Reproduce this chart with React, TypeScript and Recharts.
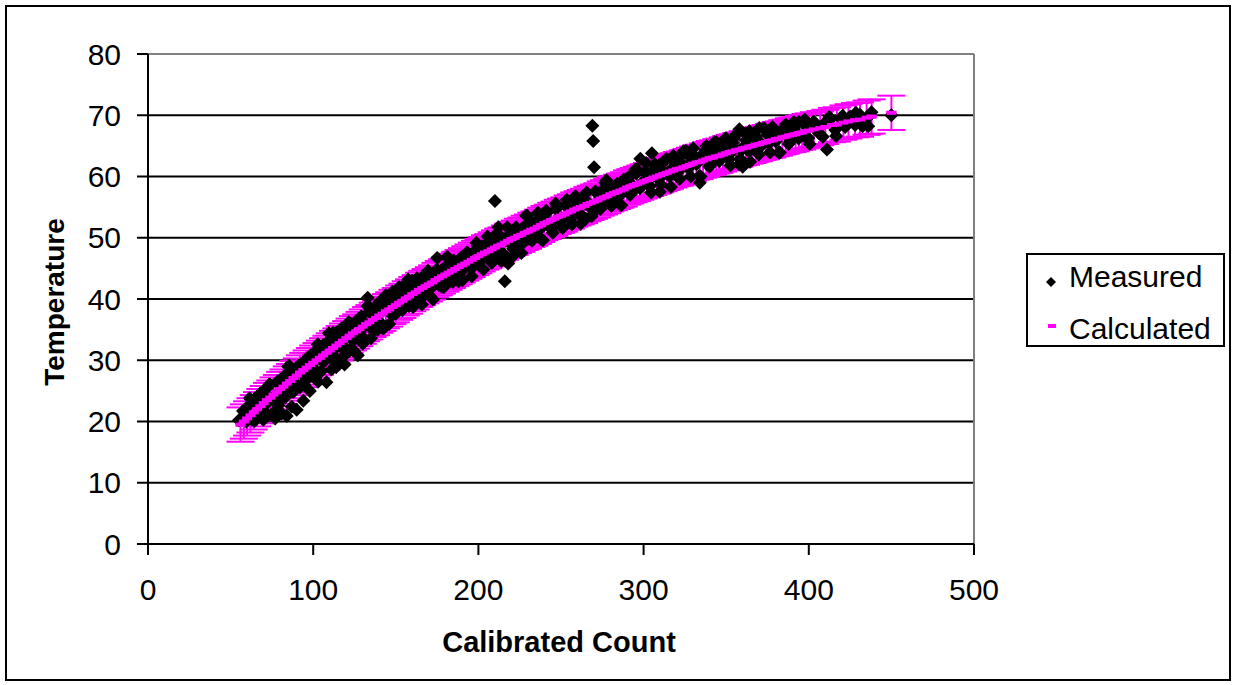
import { ScatterChart, Scatter, XAxis, YAxis, CartesianGrid, ReferenceLine, ErrorBar } from "recharts";

const FONT = "'Liberation Sans', Arial, sans-serif";
const MAGENTA = "#FF00FF";

const xTicks = [0, 100, 200, 300, 400, 500];
const yTicks = [0, 10, 20, 30, 40, 50, 60, 70, 80];

// [calibrated count, temperature]
const measuredPoints: [number, number][] = [
  [55, 20.2], [58, 21.8], [60, 20.6], [62, 22.9], [63, 20.3], [65, 23.8], [66, 21.4], [68, 24.6],
  [69, 22.1], [70, 20.8], [71, 25.3], [72, 23.0], [74, 26.0], [75, 21.2], [76, 24.1], [77, 20.5],
  [78, 26.4], [79, 22.6], [80, 25.0], [81, 21.3], [82, 27.3], [83, 23.9], [84, 20.9], [85, 26.0],
  [86, 28.2], [87, 22.4], [88, 24.8], [89, 27.6], [90, 21.9], [91, 29.1], [92, 25.6], [93, 27.9],
  [94, 23.4], [95, 30.0], [96, 26.8], [97, 28.6], [98, 25.0], [99, 30.9], [100, 27.4], [101, 29.7],
  [102, 31.6], [103, 26.5], [104, 30.3], [105, 28.2], [106, 32.5], [107, 29.9], [108, 26.4], [109, 33.1],
  [110, 30.6], [111, 28.5], [112, 34.5], [113, 31.8], [114, 28.9], [115, 33.7], [116, 30.1], [117, 35.2],
  [118, 32.4], [119, 29.3], [120, 34.8], [122, 31.5], [123, 35.9], [124, 33.2], [126, 36.4], [127, 30.8],
  [128, 34.6], [129, 37.2], [130, 32.7], [131, 35.8], [133, 40.2], [134, 37.9], [135, 33.6], [136, 36.7],
  [138, 38.8], [139, 35.0], [140, 39.5], [141, 36.1], [143, 38.3], [144, 40.6], [146, 35.9], [147, 39.4],
  [148, 41.2], [150, 37.6], [151, 40.0], [152, 41.9], [154, 38.2], [155, 42.3], [156, 40.6], [158, 38.9],
  [159, 41.7], [160, 43.0], [162, 39.8], [163, 42.4], [165, 40.9], [166, 43.6], [168, 41.3], [170, 44.2],
  [171, 40.4], [173, 43.1], [175, 46.7], [176, 42.3], [178, 44.8], [179, 41.9], [181, 45.5], [183, 43.0],
  [185, 46.3], [186, 44.1], [188, 42.9], [190, 46.9], [191, 44.8], [193, 47.6], [195, 45.2], [196, 43.7],
  [198, 47.9], [200, 46.0], [202, 48.6], [203, 44.8], [205, 47.2], [207, 49.4], [208, 45.9], [210, 56.0],
  [211, 48.3], [212, 51.7], [213, 46.5], [214, 50.1], [215, 47.4], [216, 42.9], [218, 45.8], [219, 50.6],
  [221, 48.2], [223, 51.2], [225, 49.0], [226, 47.5], [228, 51.9], [230, 49.8], [232, 52.6], [234, 50.5],
  [236, 54.1], [237, 51.3], [239, 49.6], [241, 54.4], [243, 52.2], [245, 50.8], [247, 54.7], [249, 52.9],
  [251, 51.6], [253, 55.2], [255, 53.4], [257, 52.3], [259, 55.9], [261, 54.0], [263, 56.4], [265, 53.1],
  [267, 55.6], [269, 68.3], [269.5, 65.8], [270, 61.5], [271, 54.5], [272, 57.2], [274, 55.3], [276, 58.1],
  [278, 56.2], [280, 57.8], [282, 55.9], [284, 58.8], [286, 57.0], [288, 59.5], [290, 57.8], [292, 60.1],
  [294, 58.4], [296, 61.2], [298, 62.9], [299, 59.0], [301, 60.8], [303, 58.6], [305, 63.8], [306, 61.1],
  [308, 59.8], [310, 62.0], [312, 60.3], [314, 62.8], [316, 61.0], [318, 63.4], [320, 60.6], [322, 62.4],
  [324, 64.1], [326, 61.6], [328, 63.2], [330, 64.6], [332, 62.0], [334, 59.0], [336, 63.7], [338, 65.0],
  [340, 62.5], [342, 64.3], [344, 65.6], [346, 63.1], [348, 64.8], [350, 66.2], [352, 63.6], [354, 65.5],
  [356, 66.9], [358, 67.7], [359, 64.2], [360, 61.6], [362, 65.9], [364, 67.4], [366, 64.7], [368, 66.5],
  [370, 67.9], [372, 65.2], [375, 66.8], [378, 68.1], [380, 65.7], [383, 67.3], [386, 68.5], [388, 66.2],
  [391, 67.8], [394, 68.9], [397, 66.6], [400, 68.2], [403, 69.0], [406, 67.1], [409, 68.6], [411, 64.4],
  [413, 69.3], [416, 67.6], [419, 69.5], [422, 68.1], [425, 69.8], [428, 68.4], [431, 70.1], [434, 68.8],
  [436, 68.2], [438, 70.5], [450, 70.0],
  [57.5, 21.7], [59.5, 20.0], [61.5, 23.8], [64.5, 20.1], [67.5, 22.8], [70.5, 21.6], [73.5, 26.1], [76.5, 21.6],
  [79.5, 26.3], [82.5, 25.6], [85.5, 29.1], [88.5, 25.3], [91.5, 28.8], [94.5, 26.0], [97.5, 30.6], [100.5, 28.6],
  [103.5, 32.1], [106.5, 30.3], [109.5, 34.4], [112.5, 29.9], [115.5, 33.1], [118.5, 31.8], [121.5, 36.2], [124.5, 31.6],
  [127.5, 36.1], [130.5, 35.4], [133.5, 38.8], [136.5, 34.8], [139.5, 38.1], [142.5, 35.2], [145.5, 39.7], [148.5, 37.7],
  [151.5, 41.1], [154.5, 39.2], [157.5, 43.2], [160.5, 38.7], [163.5, 41.8], [166.5, 40.4], [169.5, 44.6], [172.5, 39.9],
  [175.5, 44.4], [178.5, 43.6], [181.5, 46.8], [184.5, 42.8], [187.5, 46.0], [190.5, 43.1], [193.5, 47.5], [196.5, 45.4],
  [199.5, 48.7], [202.5, 46.8], [205.5, 50.2], [208.5, 46.0], [211.5, 49.0], [214.5, 47.5], [217.5, 51.7], [220.5, 46.9],
  [223.5, 51.3], [226.5, 50.4], [229.5, 53.6], [232.5, 49.5], [235.5, 52.7], [238.5, 49.7], [241.5, 54.1], [244.5, 51.8],
  [247.5, 55.1], [250.5, 53.1], [253.5, 56.2], [256.5, 52.2], [259.5, 55.1], [262.5, 53.6], [265.5, 57.4], [268.5, 53.5],
  [271.5, 57.3], [274.5, 56.3], [277.5, 59.4], [280.5, 55.2], [283.5, 58.3], [286.5, 55.3], [289.5, 59.6], [292.5, 57.3],
  [295.5, 60.5], [298.5, 58.4], [301.5, 62.2], [304.5, 57.4], [307.5, 60.3], [310.5, 58.7], [313.5, 62.8], [316.5, 58.3],
  [319.5, 62.2], [322.5, 61.2], [325.5, 64.2], [328.5, 60.0], [331.5, 63.1], [334.5, 60.0], [337.5, 64.3], [340.5, 61.9],
  [343.5, 65.0], [346.5, 62.9], [349.5, 66.2], [352.5, 61.8], [355.5, 64.6], [358.5, 62.9], [361.5, 67.0], [364.5, 62.4],
  [367.5, 66.2], [370.5, 65.1], [373.5, 67.6], [376.5, 63.9], [379.5, 66.9], [382.5, 63.9], [385.5, 68.0], [388.5, 65.6],
  [391.5, 68.4], [394.5, 66.5], [397.5, 69.3], [400.5, 65.3], [404.5, 68.2], [408.5, 66.5], [412.5, 69.7], [416.5, 66.6],
  [420.5, 69.9], [424.5, 68.8], [428.5, 70.4], [432.5, 68.2], [437, 70.0],
  [63.8, 20.3], [66.8, 24.3], [69.8, 20.3], [72.8, 23.9], [75.8, 23.6], [78.8, 26.6], [81.8, 24.0], [84.8, 29.0],
  [87.8, 26.7], [90.8, 28.7], [93.8, 26.1], [96.8, 29.7], [99.8, 28.2], [102.8, 32.6], [105.8, 29.9], [108.8, 32.7],
  [111.8, 30.8], [114.8, 34.7], [117.8, 30.5], [120.8, 34.0], [123.8, 33.6], [126.8, 36.5], [129.8, 33.8], [132.8, 38.8],
  [135.8, 36.2], [138.8, 38.1], [141.8, 35.3], [144.8, 38.9], [147.8, 37.3], [150.8, 41.6], [153.8, 38.8], [156.8, 41.6],
  [159.8, 39.6], [162.8, 43.4], [165.8, 39.1], [168.8, 42.4], [171.8, 41.9], [174.8, 44.8], [177.8, 42.0], [180.8, 46.8],
  [183.8, 44.2], [186.8, 46.0], [189.8, 43.2], [192.8, 46.6], [195.8, 45.0], [198.8, 49.2], [201.8, 46.4], [204.8, 49.0],
  [207.8, 46.9], [210.8, 50.6], [213.8, 46.2], [216.8, 49.5], [219.8, 49.0], [222.8, 51.7], [225.8, 48.8], [228.8, 53.6],
  [231.8, 50.9], [234.8, 52.6], [237.8, 49.8], [240.8, 53.2], [243.8, 51.5], [246.8, 55.6], [249.8, 52.7], [252.8, 55.2],
  [255.8, 53.1], [258.8, 56.8], [261.8, 52.3], [264.8, 55.5], [267.8, 54.9], [270.8, 57.6], [273.8, 54.7], [276.8, 59.0],
  [279.8, 56.7], [282.8, 58.4], [285.8, 55.4], [288.8, 58.7], [291.8, 57.0], [294.8, 61.1], [297.8, 58.1], [300.8, 60.6],
  [303.8, 58.4], [306.8, 62.0], [309.8, 57.5], [312.8, 60.7], [315.8, 60.0], [318.8, 62.7], [321.8, 59.6], [324.8, 63.9],
  [327.8, 61.5], [330.8, 63.2], [333.8, 60.1], [336.8, 63.4], [339.8, 61.6], [342.8, 65.6], [345.8, 62.5], [348.8, 65.0],
  [351.8, 62.8], [354.8, 66.3], [357.8, 62.0], [360.8, 64.9], [363.8, 64.1], [366.8, 66.7], [369.8, 63.6], [372.8, 67.9],
  [375.8, 65.4], [378.8, 67.0], [381.8, 63.9], [384.8, 67.2], [387.8, 65.3], [390.8, 68.9], [393.8, 66.2], [396.8, 68.6],
  [399.8, 66.3],
];

// [calibrated count, temperature]
const calculatedPoints: [number, number][] = [
  [56, 19.5], [58, 20.0], [60, 20.5], [62, 21.0], [64, 21.5], [66, 22.0], [68, 22.5], [70, 23.0],
  [72, 23.5], [74, 23.9], [76, 24.4], [78, 24.8], [80, 25.3], [82, 25.7], [84, 26.2], [86, 26.6],
  [88, 27.1], [90, 27.5], [92, 28.0], [94, 28.4], [96, 28.8], [98, 29.2], [100, 29.6], [102, 30.0],
  [104, 30.4], [106, 30.8], [108, 31.2], [110, 31.6], [112, 32.0], [114, 32.4], [116, 32.8], [118, 33.2],
  [120, 33.6], [122, 34.0], [124, 34.4], [126, 34.7], [128, 35.1], [130, 35.5], [132, 35.9], [134, 36.2],
  [136, 36.6], [138, 36.9], [140, 37.3], [142, 37.6], [144, 38.0], [146, 38.3], [148, 38.7], [150, 39.0],
  [152, 39.4], [154, 39.7], [156, 40.1], [158, 40.4], [160, 40.8], [162, 41.1], [164, 41.5], [166, 41.8],
  [168, 42.1], [170, 42.4], [172, 42.7], [174, 43.1], [176, 43.4], [178, 43.7], [180, 44.0], [182, 44.3],
  [184, 44.6], [186, 44.9], [188, 45.2], [190, 45.5], [192, 45.8], [194, 46.1], [196, 46.4], [198, 46.7],
  [200, 47.0], [202, 47.3], [204, 47.6], [206, 47.8], [208, 48.1], [210, 48.4], [212, 48.7], [214, 48.9],
  [216, 49.2], [218, 49.5], [220, 49.8], [222, 50.0], [224, 50.3], [226, 50.5], [228, 50.8], [230, 51.0],
  [232, 51.3], [234, 51.5], [236, 51.8], [238, 52.1], [240, 52.4], [242, 52.6], [244, 52.9], [246, 53.1],
  [248, 53.4], [250, 53.6], [252, 53.8], [254, 54.1], [256, 54.3], [258, 54.6], [260, 54.8], [262, 55.0],
  [264, 55.2], [266, 55.5], [268, 55.7], [270, 55.9], [272, 56.1], [274, 56.4], [276, 56.6], [278, 56.8],
  [280, 57.1], [282, 57.3], [284, 57.5], [286, 57.7], [288, 57.9], [290, 58.2], [292, 58.4], [294, 58.6],
  [296, 58.8], [298, 59.0], [300, 59.2], [302, 59.4], [304, 59.6], [306, 59.8], [308, 60.0], [310, 60.2],
  [312, 60.4], [314, 60.6], [316, 60.8], [318, 61.0], [320, 61.2], [322, 61.3], [324, 61.5], [326, 61.7],
  [328, 61.9], [330, 62.1], [332, 62.3], [334, 62.4], [336, 62.6], [338, 62.8], [340, 63.0], [342, 63.1],
  [344, 63.3], [346, 63.4], [348, 63.6], [350, 63.8], [352, 64.0], [354, 64.1], [356, 64.3], [358, 64.4],
  [360, 64.6], [362, 64.7], [364, 64.9], [366, 65.0], [368, 65.2], [370, 65.3], [372, 65.5], [374, 65.6],
  [376, 65.8], [378, 65.9], [380, 66.1], [382, 66.2], [384, 66.4], [386, 66.5], [388, 66.7], [390, 66.8],
  [392, 66.9], [394, 67.1], [396, 67.2], [398, 67.4], [400, 67.5], [403, 67.7], [407, 67.9], [410, 68.1],
  [414, 68.4], [417, 68.5], [421, 68.8], [424, 69.0], [428, 69.2], [431, 69.3], [435, 69.6], [438, 69.8],
  [450, 70.4],
];

// +/- error on every calculated point
const calculatedError = 2.8;

const measuredData = measuredPoints.map(([x, y]) => ({ x, y }));
const calculatedData = calculatedPoints.map(([x, y]) => ({ x, y, err: calculatedError }));

function Diamond(props: any) {
  const { cx, cy } = props;
  if (cx == null || cy == null) return <g />;
  const r = 7;
  return <polygon points={`${cx},${cy - r} ${cx + r},${cy} ${cx},${cy + r} ${cx - r},${cy}`} fill="#000" />;
}

function Dash(props: any) {
  const { cx, cy } = props;
  if (cx == null || cy == null) return <g />;
  return <rect x={cx - 5} y={cy - 2} width={10} height={4} fill={MAGENTA} />;
}

const tickStyle = { fontSize: 30, fill: "#000", fontFamily: FONT };

export default function App() {
  return (
    <div style={{ position: "absolute", left: 0, top: 0, width: 1235, height: 685, background: "#fff" }}>
      <ScatterChart width={1235} height={685} margin={{ top: 54, right: 261, bottom: 81, left: 88 }}>
        <CartesianGrid vertical={false} stroke="#000" strokeWidth={2} />
        <ReferenceLine y={80} stroke="#808080" strokeWidth={2} />
        <ReferenceLine x={500} stroke="#808080" strokeWidth={2} />
        <XAxis
          type="number"
          dataKey="x"
          domain={[0, 500]}
          ticks={xTicks}
          interval={0}
          tick={tickStyle}
          tickSize={11}
          tickMargin={24}
          height={60}
          axisLine={{ stroke: "#000", strokeWidth: 2 }}
          tickLine={{ stroke: "#000", strokeWidth: 2 }}
        />
        <YAxis
          type="number"
          dataKey="y"
          domain={[0, 80]}
          ticks={yTicks}
          interval={0}
          tick={tickStyle}
          tickSize={11}
          tickMargin={16}
          width={60}
          axisLine={{ stroke: "#000", strokeWidth: 2 }}
          tickLine={{ stroke: "#000", strokeWidth: 2 }}
        />
        <Scatter name="Calculated" data={calculatedData} shape={Dash} isAnimationActive={false}>
          <ErrorBar dataKey="err" direction="y" width={14} stroke={MAGENTA} strokeWidth={2} isAnimationActive={false} />
        </Scatter>
        <Scatter name="Measured" data={measuredData} shape={Diamond} isAnimationActive={false} />
        <Scatter name="Calculated line" data={calculatedData} shape={Dash} isAnimationActive={false} legendType="none" />
      </ScatterChart>

      <svg
        width={1235}
        height={685}
        style={{ position: "absolute", left: 0, top: 0, pointerEvents: "none" }}
        fontFamily={FONT}
      >
        <rect x={6} y={6} width={1224} height={674} fill="none" stroke="#000" strokeWidth={2} />
        <text x={559} y={652} textAnchor="middle" fontSize={29} fontWeight="bold" fill="#000">
          Calibrated Count
        </text>
        <text
          x={64}
          y={302}
          textAnchor="middle"
          fontSize={28}
          fontWeight="bold"
          fill="#000"
          transform="rotate(-90 64 302)"
        >
          Temperature
        </text>
        <rect x={1027} y={254} width={197} height={92} fill="#fff" stroke="#000" strokeWidth={2} />
        <polygon points="1051,277 1056,282 1051,287 1046,282" fill="#000" />
        <text x={1069} y={287} fontSize={30} fill="#000">Measured</text>
        <rect x={1048} y={324} width={8} height={4} fill={MAGENTA} />
        <text x={1069} y={339} fontSize={30} fill="#000">Calculated</text>
      </svg>
    </div>
  );
}
